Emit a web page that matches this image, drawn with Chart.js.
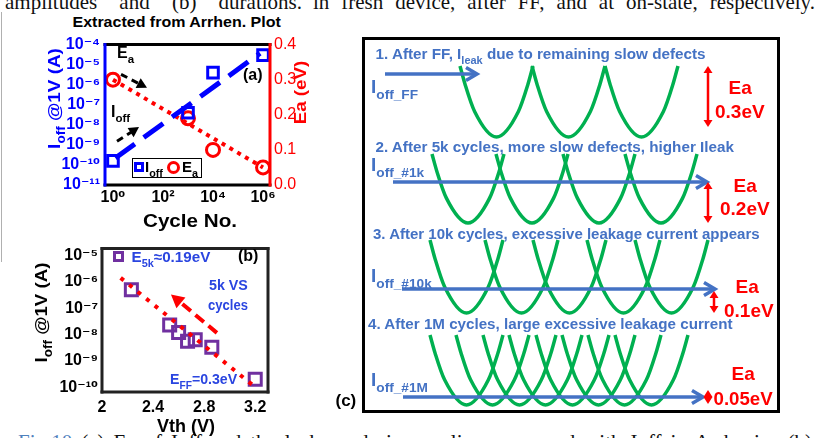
<!DOCTYPE html>
<html>
<head>
<meta charset="utf-8">
<script src="https://cdn.jsdelivr.net/npm/chart.js@4.4.1/dist/chart.umd.min.js"></script>
<style>
html, body { margin: 0; padding: 0; background: #fff; }
body { width: 822px; height: 438px; position: relative; overflow: hidden; font-family: 'Liberation Sans', Arial, sans-serif; }
canvas { position: absolute; }
.lbl { position: absolute; white-space: nowrap; font-weight: bold; line-height: 1; transform-origin: center center; }
.lbl sub { font-size: 72%; vertical-align: -0.45em; line-height: 0; }
.cap { position: absolute; font-family: 'Liberation Serif', 'Times New Roman', serif; font-size: 21px; line-height: 21px; color: #111; text-align: justify; text-align-last: justify; white-space: nowrap; }
.box { position: absolute; box-sizing: border-box; }
</style>
</head>
<body>
<div class="cap" style="left:5px; top:-8px; width:297px; white-space:normal;">amplitudes and (b) durations.</div>
<div class="cap" style="left:313px; top:-8px; width:502px; white-space:normal;">in fresh device, after FF, and at on-state, respectively.</div>
<div class="cap" style="left:18px; top:432px; width:794px; white-space:normal;"><span style="color:#4f81bd">Fig.10</span> (a) Ea of Ioff and the leakage during cycling compared with Ioff in Arrhenius (b)</div>
<div class="box" style="left:1px; top:12px; width:1px; height:250px; background:#b0b0b0;"></div>

<canvas id="chartA" width="320" height="205" style="left:0; top:30px;"></canvas>
<canvas id="chartB" width="300" height="203" style="left:0; top:235px;"></canvas>
<canvas id="chartC" width="418" height="376" style="left:362px; top:37px;"></canvas>
<div class="box" style="left:362px; top:37px; width:418px; height:376px; border:3px solid #000;"></div>

<script>
const BLUE = '#0000ff', RED = '#ff0000', PURPLE = '#7030a0', GREEN = '#00b050', SLATE = '#4472c4', TXTBLUE = '#2a45e0';
const FAM = "'Liberation Sans', 'DejaVu Sans', Arial, sans-serif";

// (a) Ioff and Ea vs cycle number
const cycleNo = [1, 1e3, 1e4, 1e6];
const ioffA = [1.6e-10, 4e-8, 4e-6, 3e-5];
const eaA = [0.30, 0.19, 0.10, 0.05];
const ioffFitX = [1.25, 7.6e5];
const ioffFitY = [2.2e-10, 3.7e-5];
const eaFitX = [1, 1e6];
const eaFitY = [0.30, 0.05];
const eaArrowX = [2.1, 23];
const eaArrowY = [3.3e-6, 7e-7];
const ioffArrowX = [1.45, 11];
const ioffArrowY = [1.5e-9, 7.7e-9];
const cycleTickExp = [0, 2, 4, 6];
const ioffTickExpA = [-11, -10, -9, -8, -7, -6, -5, -4];
const eaTicks = [0, 0.1, 0.2, 0.3, 0.4];

// (b) Ioff vs Vth
const vth = [2.23, 2.53, 2.60, 2.67, 2.73, 2.86, 3.20];
const ioffB = [5e-7, 2.3e-8, 1.2e-8, 5.5e-9, 6.3e-9, 3.3e-9, 2e-10];
const fitBX = [2.146, 3.19];
const fitBY = [1.4e-6, 1.1e-10];
const cycArrowX = [2.90, 2.54];
const cycArrowY = [1.15e-8, 3.3e-7];
const vthTicks = [2, 2.4, 2.8, 3.2];
const ioffTickExpB = [-10, -9, -8, -7, -6, -5];

// (c) schematic: wells per stage (left tip position), tips, floors
const wellLeft1 = [98, 170, 243];
const wellLeft2 = [70, 134, 201, 263];
const wellLeft3 = [68, 123, 171, 225, 273];
const wellLeft4 = [68, 94, 121, 147, 174, 200, 226, 253];
const wellWidth = [73, 72, 73, 73];
const wellTip = [29, 117, 203, 298];
const wellFloor = [100, 186, 276, 368];
const wellShapeU = [0, 0.07, 0.2, 0.5, 0.8, 0.93, 1];
const wellShapeD = [0, 0.26, 0.64, 1, 0.64, 0.26, 0];
const ioffLineY = [37, 145, 252, 360];
const ioffLineX0 = [23, 31, 40, 41];
const ioffLineX1 = [115, 345, 353, 341];
const eaBarX = [346, 346, 352, 346];
const eaBarTop = [29, 145, 254, 353];
const eaBarBottom = [90, 186, 276, 367];

const sup = n => '10' + String(n).replace(/-/g, '⁻').replace(/\d/g, d => '⁰¹²³⁴⁵⁶⁷⁸⁹'[d]);
const font = (size, weight) => ({ family: FAM, size, weight });
const pts = (xs, ys) => xs.map((x, i) => ({ x, y: ys[i] }));
const noGrid = { display: false, drawTicks: false };

function drawArrow(ctx, x0, y0, x1, y1, o) {
  const a = Math.atan2(y1 - y0, x1 - x0), c = Math.cos(a), s = Math.sin(a);
  const L = o.head, W = o.half;
  ctx.save();
  ctx.strokeStyle = o.color; ctx.fillStyle = o.color; ctx.lineWidth = o.width;
  const back = o.style === 'fill' ? L * 0.8 : 0;
  const sx = o.both ? x0 + c * back : x0, sy = o.both ? y0 + s * back : y0;
  ctx.setLineDash(o.dash || []);
  ctx.beginPath(); ctx.moveTo(sx, sy); ctx.lineTo(x1 - c * back, y1 - s * back); ctx.stroke();
  ctx.setLineDash([]);
  const head = (tx, ty, dc, ds) => {
    ctx.beginPath();
    ctx.moveTo(tx - dc * L - ds * W, ty - ds * L + dc * W);
    ctx.lineTo(tx, ty);
    ctx.lineTo(tx - dc * L + ds * W, ty - ds * L - dc * W);
    if (o.style === 'fill') { ctx.closePath(); ctx.fill(); } else { ctx.lineJoin = 'miter'; ctx.stroke(); }
  };
  head(x1, y1, c, s);
  if (o.both) head(x0, y0, -c, -s);
  ctx.restore();
}

function arrowPlugin(id, arrows) {
  return {
    id,
    afterDatasetsDraw(chart) {
      arrows.forEach(a => {
        const xs = chart.scales[a.xAxis || 'x'], ys = chart.scales[a.yAxis || 'y'];
        const p = a.x.map((v, i) => [xs.getPixelForValue(v), ys.getPixelForValue(a.y[i])]);
        drawArrow(chart.ctx, p[0][0], p[0][1], p[1][0], p[1][1], a);
      });
    }
  };
}

function framePlugin(colors, lw) {
  return {
    id: 'frame',
    afterDraw(chart) {
      const { ctx, chartArea: { left, right, top, bottom } } = chart;
      ctx.save();
      ctx.lineWidth = lw; ctx.lineCap = 'square';
      const seg = (col, x1, y1, x2, y2) => { ctx.strokeStyle = col; ctx.beginPath(); ctx.moveTo(x1, y1); ctx.lineTo(x2, y2); ctx.stroke(); };
      seg(colors[0], left, top, right, top);
      seg(colors[1], left, bottom, right, bottom);
      seg(colors[2], left, top, left, bottom);
      seg(colors[3], right, top, right, bottom);
      ctx.restore();
    }
  };
}

const common = {
  responsive: false,
  animation: false,
  plugins: { legend: { display: false }, tooltip: { enabled: false } },
  events: []
};

// ---- chart (a)
new Chart(document.getElementById('chartA'), {
  type: 'scatter',
  data: {
    datasets: [
      { data: pts(ioffFitX, ioffFitY), showLine: true, borderColor: BLUE, borderWidth: 5, borderDash: [24, 11], pointRadius: 0, yAxisID: 'y' },
      { data: pts(eaFitX, eaFitY), showLine: true, borderColor: RED, borderWidth: 4, borderDash: [4, 5], pointRadius: 0, yAxisID: 'y1' },
      { data: pts(cycleNo, ioffA), pointStyle: 'rect', pointRadius: 7.5, borderColor: BLUE, borderWidth: 3, backgroundColor: 'rgba(0,0,0,0)', yAxisID: 'y' },
      { data: pts(cycleNo, eaA), pointStyle: 'circle', pointRadius: 6.5, borderColor: RED, borderWidth: 3, backgroundColor: 'rgba(0,0,0,0)', yAxisID: 'y1' }
    ]
  },
  options: {
    ...common,
    layout: { padding: { top: 9, left: 0, right: 0, bottom: 0 } },
    scales: {
      x: {
        type: 'logarithmic', min: 0.48, max: 1.9e6,
        grid: noGrid, border: { display: false },
        afterBuildTicks: s => { s.ticks = cycleTickExp.map(e => ({ value: Math.pow(10, e) })); },
        ticks: { callback: v => sup(Math.round(Math.log10(v))), color: '#000', font: font(16, 'bold'), padding: 3, maxRotation: 0, autoSkip: false },
        afterFit: s => { s.height = 50; }
      },
      y: {
        type: 'logarithmic', position: 'left', min: 1e-11, max: 1e-4,
        grid: noGrid, border: { display: false },
        afterBuildTicks: s => { s.ticks = ioffTickExpA.map(e => ({ value: Math.pow(10, e) })); },
        ticks: { callback: v => sup(Math.round(Math.log10(v))), color: BLUE, font: font(16, 'bold'), padding: 5, autoSkip: false },
        afterFit: s => { s.width = 105; }
      },
      y1: {
        type: 'linear', position: 'right', min: 0, max: 0.4,
        grid: noGrid, border: { display: false },
        afterBuildTicks: s => { s.ticks = eaTicks.map(v => ({ value: v })); },
        ticks: { callback: v => v.toFixed(1), color: RED, font: font(16, 'normal'), padding: 4, autoSkip: false },
        afterFit: s => { s.width = 50; }
      }
    }
  },
  plugins: [
    framePlugin(['#000', '#000', BLUE, RED], 3),
    arrowPlugin('arrowsA', [
      { x: eaArrowX, y: eaArrowY, color: '#000', width: 3, dash: [7, 5], head: 10, half: 5.5, style: 'fill' },
      { x: ioffArrowX, y: ioffArrowY, color: '#000', width: 3, dash: [7, 5], head: 10, half: 5.5, style: 'fill' }
    ])
  ]
});

// ---- chart (b)
new Chart(document.getElementById('chartB'), {
  type: 'scatter',
  data: {
    datasets: [
      { data: pts(fitBX, fitBY), showLine: true, borderColor: RED, borderWidth: 4, borderDash: [4, 7], pointRadius: 0 },
      { data: pts(vth, ioffB), pointStyle: 'rect', pointRadius: 8.5, borderColor: PURPLE, borderWidth: 3, backgroundColor: 'rgba(0,0,0,0)' }
    ]
  },
  options: {
    ...common,
    layout: { padding: { top: 8, left: 0, right: 32, bottom: 0 } },
    scales: {
      x: {
        type: 'linear', min: 2, max: 3.3,
        grid: noGrid, border: { display: false },
        afterBuildTicks: s => { s.ticks = vthTicks.map(v => ({ value: v })); },
        ticks: { callback: v => (v === 2 ? '2' : v.toFixed(1)), color: '#000', font: font(16, 'bold'), padding: 6, maxRotation: 0, autoSkip: false },
        afterFit: s => { s.height = 46; }
      },
      y: {
        type: 'logarithmic', min: 6.6e-11, max: 1.8e-5,
        grid: noGrid, border: { display: false },
        afterBuildTicks: s => { s.ticks = ioffTickExpB.map(e => ({ value: Math.pow(10, e) })); },
        ticks: { callback: v => sup(Math.round(Math.log10(v))), color: '#000', font: font(16, 'bold'), padding: 4, autoSkip: false },
        afterFit: s => { s.width = 102; }
      }
    }
  },
  plugins: [
    framePlugin(['#222', '#222', '#222', '#222'], 3),
    arrowPlugin('arrowsB', [
      { x: cycArrowX, y: cycArrowY, color: RED, width: 4, dash: [11, 6], head: 13, half: 7, style: 'fill' }
    ])
  ]
});

// ---- chart (c)
const wellSets = [wellLeft1, wellLeft2, wellLeft3, wellLeft4].flatMap((lefts, r) =>
  lefts.map(L => ({
    data: wellShapeU.map((u, k) => ({ x: L + u * wellWidth[r], y: wellTip[r] + wellShapeD[k] * (wellFloor[r] - wellTip[r]) })),
    showLine: true, borderColor: GREEN, borderWidth: 3.5, pointRadius: 0,
    cubicInterpolationMode: 'monotone', fill: false
  }))
);
const cArrows = [];
ioffLineY.forEach((y, i) => cArrows.push({ x: [ioffLineX0[i], ioffLineX1[i]], y: [y, y], color: SLATE, width: 3.5, head: 11, half: 6.5, style: 'open' }));
eaBarX.forEach((x, i) => cArrows.push({ x: [x, x], y: [eaBarTop[i], eaBarBottom[i]], color: RED, width: 2.5, head: 7, half: 4.5, style: 'fill', both: true }));

new Chart(document.getElementById('chartC'), {
  type: 'scatter',
  data: { datasets: wellSets },
  options: {
    ...common,
    layout: { padding: 0 },
    scales: {
      x: { type: 'linear', min: 0, max: 418, display: false },
      y: { type: 'linear', min: 0, max: 376, reverse: true, display: false }
    }
  },
  plugins: [arrowPlugin('arrowsC', cArrows)]
});

// ---- text labels
function addText(html, x, y, o = {}) {
  const d = document.createElement('div');
  d.className = 'lbl';
  d.innerHTML = html;
  d.style.fontSize = (o.size || 15) + 'px';
  d.style.color = o.color || '#000';
  if (o.weight) d.style.fontWeight = o.weight;
  document.body.appendChild(d);
  const w = d.offsetWidth, h = d.offsetHeight;
  const sx = o.fit ? o.fit / w : 1;
  const cx = o.anchor === 'left' ? x + w * sx / 2 : x;
  d.style.left = (cx - w / 2) + 'px';
  d.style.top = (y - h / 2) + 'px';
  d.style.transform = (o.rot ? 'rotate(' + o.rot + 'deg) ' : '') + 'scaleX(' + sx + ')';
  return d;
}
function addBox(x, y, w, h, css) {
  const d = document.createElement('div');
  d.className = 'box';
  d.style.cssText += 'left:' + x + 'px;top:' + y + 'px;width:' + w + 'px;height:' + h + 'px;' + css;
  document.body.appendChild(d);
}

// (a)
addText('Extracted from Arrhen. Plot', 72, 21, { anchor: 'left', size: 15, fit: 208 });
addText('I<sub>off</sub> @1V (A)', 54, 98, { size: 17, color: BLUE, rot: -90, fit: 101 });
addText('Ea (eV)', 301, 92, { size: 17, color: RED, rot: -90, fit: 64 });
addText('Cycle No.', 190, 221, { size: 18, fit: 94 });
addText('E<sub>a</sub>', 117, 53, { anchor: 'left', size: 16 });
addText('I<sub>off</sub>', 111, 112, { anchor: 'left', size: 16 });
addText('(a)', 253, 75, { size: 16 });
addBox(132, 158, 70, 20, 'border:1px solid #000;background:#fff;');
addBox(133.5, 162, 10, 10, 'border:3px solid ' + BLUE + ';');
addBox(166.5, 160.5, 13, 13, 'border:3px solid ' + RED + ';border-radius:50%;');
addText('I<sub>off</sub>', 145, 166, { anchor: 'left', size: 15 });
addText('E<sub>a</sub>', 182, 166, { anchor: 'left', size: 15 });

// (b)
addText('I<sub>off</sub> @1V (A)', 41, 312, { size: 17, rot: -90, fit: 100 });
addText('Vth (V)', 186, 426, { size: 18 });
addText('(b)', 248, 256, { size: 16 });
addBox(113, 251, 11, 11, 'border:3px solid ' + PURPLE + ';');
addText('E<sub>5k</sub>≈0.19eV', 131, 256, { anchor: 'left', size: 15, color: TXTBLUE, fit: 79 });
addText('5k VS', 228, 284, { size: 15, color: TXTBLUE, fit: 39 });
addText('cycles', 228, 304, { size: 15, color: TXTBLUE, fit: 40 });
addText('E<sub>FF</sub>=0.3eV', 170, 378, { anchor: 'left', size: 15, color: TXTBLUE, fit: 67 });

// (c)
addText('1. After FF, I<sub>leak</sub> due to remaining slow defects', 375, 54, { anchor: 'left', size: 14, color: SLATE, fit: 330 });
addText('2. After 5k cycles, more slow defects, higher Ileak', 375, 147, { anchor: 'left', size: 14, color: SLATE, fit: 358 });
addText('3. After 10k cycles, excessive leakage current appears', 373, 234, { anchor: 'left', size: 14, color: SLATE, fit: 387 });
addText('4. After 1M cycles, large excessive leakage current', 368, 324, { anchor: 'left', size: 14, color: SLATE, fit: 364 });
addText('I<sub>off_FF</sub>', 371, 86, { anchor: 'left', size: 19, color: SLATE });
addText('I<sub>off_#1k</sub>', 371, 164, { anchor: 'left', size: 19, color: SLATE });
addText('I<sub>off_#10k</sub>', 371, 275, { anchor: 'left', size: 19, color: SLATE });
addText('I<sub>off_#1M</sub>', 371, 379, { anchor: 'left', size: 19, color: SLATE });
addText('Ea', 740, 87, { size: 19, color: RED });
addText('0.3eV', 740, 111, { size: 19, color: RED, fit: 50 });
addText('Ea', 745, 185, { size: 19, color: RED });
addText('0.2eV', 745, 208, { size: 19, color: RED, fit: 50 });
addText('Ea', 747, 286, { size: 19, color: RED });
addText('0.1eV', 749, 310, { size: 19, color: RED, fit: 50 });
addText('Ea', 743, 373, { size: 19, color: RED });
addText('0.05eV', 743, 398, { size: 19, color: RED, fit: 59 });
addText('(c)', 346, 400, { size: 17 });
</script>
</body>
</html>
